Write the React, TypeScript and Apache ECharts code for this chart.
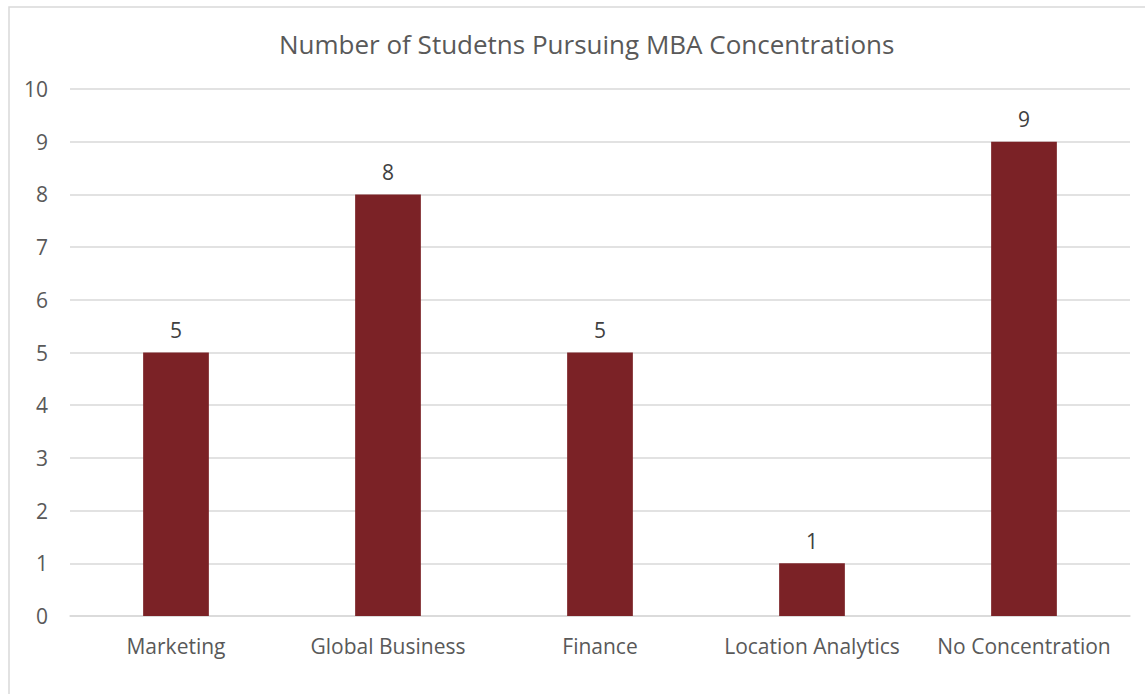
import React, { useEffect, useRef } from "react";
import * as echarts from "echarts";

const categories = ["Marketing", "Global Business", "Finance", "Location Analytics", "No Concentration"];
const values = [5, 8, 5, 1, 9];
const titleText = "Number of Studetns Pursuing MBA Concentrations";

export default function App() {
  const ref = useRef<HTMLDivElement>(null);
  useEffect(() => {
    if (!ref.current) return;
    const chart = echarts.init(ref.current, null, { renderer: "svg" });
    const font = "'Open Sans', sans-serif";
    chart.setOption({
      animation: false,
      backgroundColor: "#ffffff",
      title: {
        text: titleText,
        left: 274,
        top: 26,
        textStyle: { color: "#595959", fontSize: 26, fontWeight: "normal", fontFamily: font },
      },
      graphic: [
        {
          type: "rect",
          shape: { x: 9, y: 7, width: 1145, height: 700 },
          style: { fill: "none", stroke: "#d9d9d9", lineWidth: 1.5 },
          silent: true,
        },
      ],
      grid: { left: 70, right: 15, top: 89, bottom: 78, containLabel: false },
      xAxis: {
        type: "category",
        data: categories,
        axisLine: { show: true, lineStyle: { color: "#d9d9d9", width: 1.5 } },
        axisTick: { show: false },
        axisLabel: { color: "#595959", fontSize: 21, fontFamily: font, margin: 19, interval: 0, hideOverlap: false },
      },
      yAxis: {
        type: "value",
        min: 0,
        max: 10,
        interval: 1,
        axisLine: { show: false },
        axisTick: { show: false },
        axisLabel: { color: "#595959", fontSize: 21, fontFamily: font, margin: 22 },
        splitLine: { lineStyle: { color: "#d9d9d9", width: 1.5 } },
      },
      series: [
        {
          type: "bar",
          data: values,
          barWidth: "31%",
          itemStyle: { color: "#7B2226" },
          label: {
            show: true,
            position: "top",
            distance: 12,
            color: "#404040",
            fontSize: 21,
            fontFamily: font,
          },
        },
      ],
    });
    return () => chart.dispose();
  }, []);
  return (
    <div
      ref={ref}
      style={{ position: "fixed", left: 0, top: 0, width: 1145, height: 694 }}
    />
  );
}
